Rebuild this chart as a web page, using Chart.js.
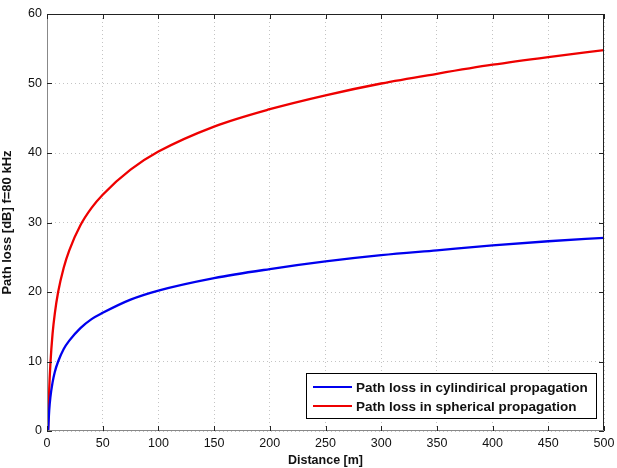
<!DOCTYPE html>
<html><head><meta charset="utf-8">
<script src="https://cdn.jsdelivr.net/npm/chart.js@4/dist/chart.umd.min.js"></script>
<style>html,body{margin:0;padding:0;background:#fff}#wrap{width:617px;height:468px}</style>
</head><body><div id="wrap"><canvas id="c" width="617" height="468"></canvas></div>
<script>
const distances = [1,2,3,5,7,10,15,20,30,40,50,75,100,150,200,250,300,350,400,450,500];
const cylindrical = [0,3.0,4.8,7.0,8.5,10.0,11.8,13.0,14.8,16.1,17.0,18.9,20.2,22.0,23.3,24.4,25.3,26.0,26.7,27.3,27.8];
const spherical = [0,6.0,9.5,14.0,16.9,20.0,23.5,26.0,29.6,32.1,34.0,37.6,40.2,43.8,46.3,48.3,50.0,51.4,52.7,53.8,54.8];
const xTicks = [0,50,100,150,200,250,300,350,400,450,500];
const yTicks = [0,10,20,30,40,50,60];
const seriesNames = ['Path loss in cylindirical propagation','Path loss in spherical propagation'];
const colors = ['#0000ee','#ee0000'];

const pts = (ys) => distances.map((d,i)=>({x:d,y:ys[i]}));

const framePlugin = {
  id:'frame',
  afterDatasetsDraw(chart){
    const {ctx, chartArea:a, scales:{x,y}} = chart;
    ctx.save();
    ctx.lineWidth = 1;
    ctx.strokeStyle = '#222';
    ctx.beginPath();
    ctx.moveTo(a.left, a.top+0.5); ctx.lineTo(a.right, a.top+0.5);
    ctx.moveTo(a.right-0.5, a.top); ctx.lineTo(a.right-0.5, a.bottom);
    ctx.stroke();
    ctx.strokeStyle = '#888';
    ctx.beginPath();
    ctx.moveTo(a.left+0.5, a.top); ctx.lineTo(a.left+0.5, a.bottom);
    ctx.moveTo(a.left, a.bottom-0.5); ctx.lineTo(a.right, a.bottom-0.5);
    ctx.stroke();
    ctx.strokeStyle = '#222';
    ctx.beginPath();
    const tl = 5;
    xTicks.forEach(v=>{
      const px = Math.round(x.getPixelForValue(v))+0.5;
      ctx.moveTo(px, a.bottom); ctx.lineTo(px, a.bottom-tl);
      ctx.moveTo(px, a.top); ctx.lineTo(px, a.top+tl);
    });
    yTicks.forEach(v=>{
      const py = Math.round(y.getPixelForValue(v))+0.5;
      ctx.moveTo(a.left, py); ctx.lineTo(a.left+tl, py);
      ctx.moveTo(a.right, py); ctx.lineTo(a.right-tl, py);
    });
    ctx.stroke();
    // legend
    const lx = 306, ly = 373, lw = 290, lh = 45;
    ctx.fillStyle = '#fff';
    ctx.fillRect(lx, ly, lw, lh);
    ctx.strokeStyle = '#000';
    ctx.strokeRect(lx+0.5, ly+0.5, lw, lh);
    ctx.font = 'bold 13.5px "Liberation Sans", Arial, sans-serif';
    ctx.textBaseline = 'middle';
    seriesNames.forEach((n,i)=>{
      const yy = ly + 14 + i*19;
      ctx.strokeStyle = colors[i];
      ctx.lineWidth = 2;
      ctx.beginPath(); ctx.moveTo(lx+7, yy); ctx.lineTo(lx+46, yy); ctx.stroke();
      ctx.fillStyle = '#111';
      ctx.fillText(n, lx+50, yy+1);
    });
    ctx.restore();
  }
};

new Chart(document.getElementById('c'), {
  type:'line',
  data:{datasets:[
    {label:seriesNames[0], data:pts(cylindrical), borderColor:colors[0], borderWidth:2.3, pointRadius:0, cubicInterpolationMode:'monotone', fill:false},
    {label:seriesNames[1], data:pts(spherical), borderColor:colors[1], borderWidth:2.3, pointRadius:0, cubicInterpolationMode:'monotone', fill:false}
  ]},
  options:{
    responsive:false, animation:false,
    layout:{padding:{top:14,right:13,left:0,bottom:0}},
    plugins:{legend:{display:false}, tooltip:{enabled:false}},
    scales:{
      x:{type:'linear', min:0, max:500,
        afterBuildTicks(s){ s.ticks = xTicks.map(v=>({value:v})); },
        afterFit(s){ s.height = 37; s.paddingRight = 0; s.paddingLeft = 0; },
        grid:{color:'#c4c4c4', drawTicks:false, lineWidth:1},
        border:{display:false, dash:[1,3]},
        ticks:{padding:5, maxRotation:0, color:'#111', font:{family:'"Liberation Sans", Arial, sans-serif', size:12.5}},
        title:{display:true, text:'Distance [m]', color:'#111', padding:{top:0,bottom:0}, font:{family:'"Liberation Sans", Arial, sans-serif', size:12.5, weight:'bold'}}
      },
      y:{type:'linear', min:0, max:60,
        afterBuildTicks(s){ s.ticks = yTicks.map(v=>({value:v})); },
        afterFit(s){ s.width = 47; s.paddingTop = 0; s.paddingBottom = 0; },
        grid:{color:'#c4c4c4', drawTicks:false, lineWidth:1},
        border:{display:false, dash:[1,3]},
        ticks:{padding:5, color:'#111', font:{family:'"Liberation Sans", Arial, sans-serif', size:12.5}},
        title:{display:true, text:'Path loss [dB] f=80 kHz', color:'#111', padding:{top:0,bottom:2}, font:{family:'"Liberation Sans", Arial, sans-serif', size:13, weight:'bold'}}
      }
    }
  },
  plugins:[framePlugin]
});
</script></body></html>
